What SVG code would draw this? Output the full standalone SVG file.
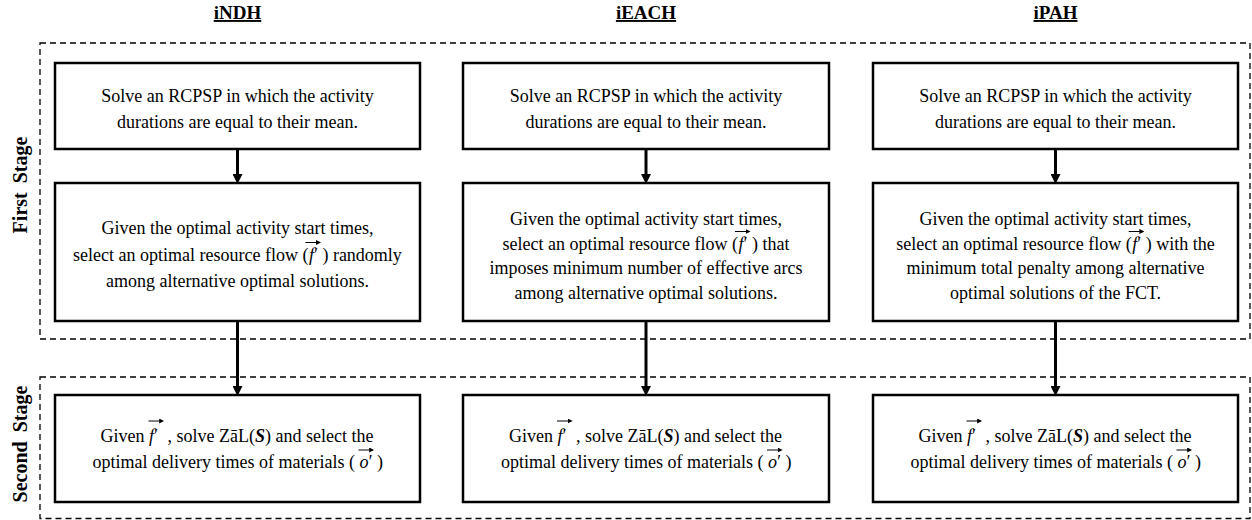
<svg xmlns="http://www.w3.org/2000/svg" width="1252" height="520" viewBox="0 0 1252 520">
<defs>
<style>
.t{font-family:"Liberation Serif","Times New Roman",serif;font-size:18px;fill:#000}
.c{text-anchor:middle}
.m{font-style:italic}
.bi{font-weight:bold;font-style:italic}
.hdr{font-weight:bold;text-decoration:underline;font-size:19px}
.lbl{font-weight:bold;font-size:20px}
.box{fill:#fff;stroke:#000;stroke-width:2.5}
.stage{fill:none;stroke:#000;stroke-width:1.3;stroke-dasharray:6 4}
.conn{stroke:#000;stroke-width:3;fill:none;marker-end:url(#ah)}
.vec{stroke:#000;stroke-width:1;fill:none;marker-end:url(#vh)}
</style>
<marker id="ah" viewBox="0 0 10 10" refX="3" refY="5" markerWidth="10" markerHeight="10" markerUnits="userSpaceOnUse" orient="auto">
<path d="M0,0 L10,5 L0,10 z" fill="#000"/>
</marker>
<marker id="vh" viewBox="0 0 6 6" refX="4" refY="3" markerWidth="5" markerHeight="5" markerUnits="userSpaceOnUse" orient="auto">
<path d="M0,0 L6,3 L0,6 z" fill="#000"/>
</marker>
</defs>
<rect width="1252" height="520" fill="#fff"/>

<g id="stages">
<rect class="stage" x="40" y="43" width="1210" height="296"/>
<rect class="stage" x="40" y="377" width="1210" height="141.5"/>
</g>

<g id="headers">
<text class="t hdr c" x="237.5" y="19">iNDH</text>
<text class="t hdr c" x="646" y="19">iEACH</text>
<text class="t hdr c" x="1055.5" y="19">iPAH</text>
</g>

<g id="stage-labels">
<text class="t lbl c" transform="translate(27,185) rotate(-90)">First<tspan dx="4"> Stage</tspan></text>
<text class="t lbl c" transform="translate(27,444) rotate(-90)">Second<tspan dx="4"> Stage</tspan></text>
</g>

<g id="connectors">
<path class="conn" d="M237.5,149 V177"/>
<path class="conn" d="M237.5,321 V389"/>
<path class="conn" d="M646,149 V177"/>
<path class="conn" d="M646,321 V389"/>
<path class="conn" d="M1055.5,149 V177"/>
<path class="conn" d="M1055.5,321 V389"/>
</g>

<g id="indh-1">
<rect class="box" x="55" y="63" width="365" height="86"/>
<text class="t c" x="237.5" y="102">Solve an RCPSP in which the activity</text>
<text class="t c" x="237.5" y="128">durations are equal to their mean.</text>
</g>
<g id="indh-2">
<rect class="box" x="55" y="183" width="365" height="138"/>
<text class="t c" x="237.5" y="234">Given the optimal activity start times,</text>
<text class="t" x="73" y="260.5">select an optimal resource flow (</text>
<text class="t m" x="309" y="260.5">f<tspan dx="-1">′</tspan></text>
<text class="t" x="322.4" y="260.5">) randomly</text>
<path class="vec" d="M305.4,242.5 H319.4"/>
<text class="t c" x="237.5" y="287">among alternative optimal solutions.</text>
</g>
<g id="indh-3">
<rect class="box" x="55" y="395" width="365" height="107"/>
<text class="t" x="100.5" y="442">Given</text>
<text class="t m" x="149" y="442">f<tspan dx="-1">′</tspan></text>
<path class="vec" d="M148.5,421 H162.5"/>
<text class="t" x="167.5" y="442">, solve ZāL(<tspan class="bi">S</tspan>) and select the</text>
<text class="t" x="92.5" y="468">optimal delivery times of materials (</text>
<text class="t m" x="359.5" y="468">o<tspan dx="-1">′</tspan></text>
<path class="vec" d="M358.5,450 H372.5"/>
<text class="t" x="377" y="468">)</text>
</g>

<g id="ieach-1">
<rect class="box" x="463" y="63" width="366" height="86"/>
<text class="t c" x="646" y="102">Solve an RCPSP in which the activity</text>
<text class="t c" x="646" y="128">durations are equal to their mean.</text>
</g>
<g id="ieach-2">
<rect class="box" x="463" y="183" width="366" height="138"/>
<text class="t c" x="646" y="225">Given the optimal activity start times,</text>
<text class="t" x="502.5" y="249.5">select an optimal resource flow (</text>
<text class="t m" x="738.5" y="249.5">f<tspan dx="-1">′</tspan></text>
<text class="t" x="751.9" y="249.5">) that</text>
<path class="vec" d="M734.9,231.5 H748.9"/>
<text class="t c" x="646" y="274">imposes minimum number of effective arcs</text>
<text class="t c" x="646" y="298.5">among alternative optimal solutions.</text>
</g>
<g id="ieach-3">
<rect class="box" x="463" y="395" width="366" height="107"/>
<text class="t" x="509" y="442">Given</text>
<text class="t m" x="557.5" y="442">f<tspan dx="-1">′</tspan></text>
<path class="vec" d="M557,421 H571"/>
<text class="t" x="576" y="442">, solve ZāL(<tspan class="bi">S</tspan>) and select the</text>
<text class="t" x="501" y="468">optimal delivery times of materials (</text>
<text class="t m" x="768" y="468">o<tspan dx="-1">′</tspan></text>
<path class="vec" d="M767,450 H781"/>
<text class="t" x="785.5" y="468">)</text>
</g>

<g id="ipah-1">
<rect class="box" x="873" y="63" width="365" height="86"/>
<text class="t c" x="1055.5" y="102">Solve an RCPSP in which the activity</text>
<text class="t c" x="1055.5" y="128">durations are equal to their mean.</text>
</g>
<g id="ipah-2">
<rect class="box" x="873" y="183" width="365" height="138"/>
<text class="t c" x="1055.5" y="225">Given the optimal activity start times,</text>
<text class="t" x="896.3" y="249.5">select an optimal resource flow (</text>
<text class="t m" x="1132.3" y="249.5">f<tspan dx="-1">′</tspan></text>
<text class="t" x="1145.7" y="249.5">) with the</text>
<path class="vec" d="M1128.7,231.5 H1142.7"/>
<text class="t c" x="1055.5" y="274">minimum total penalty among alternative</text>
<text class="t c" x="1055.5" y="298.5">optimal solutions of the FCT.</text>
</g>
<g id="ipah-3">
<rect class="box" x="873" y="395" width="365" height="107"/>
<text class="t" x="918.5" y="442">Given</text>
<text class="t m" x="967" y="442">f<tspan dx="-1">′</tspan></text>
<path class="vec" d="M966.5,421 H980.5"/>
<text class="t" x="985.5" y="442">, solve ZāL(<tspan class="bi">S</tspan>) and select the</text>
<text class="t" x="910.5" y="468">optimal delivery times of materials (</text>
<text class="t m" x="1177.5" y="468">o<tspan dx="-1">′</tspan></text>
<path class="vec" d="M1176.5,450 H1190.5"/>
<text class="t" x="1195" y="468">)</text>
</g>
</svg>
